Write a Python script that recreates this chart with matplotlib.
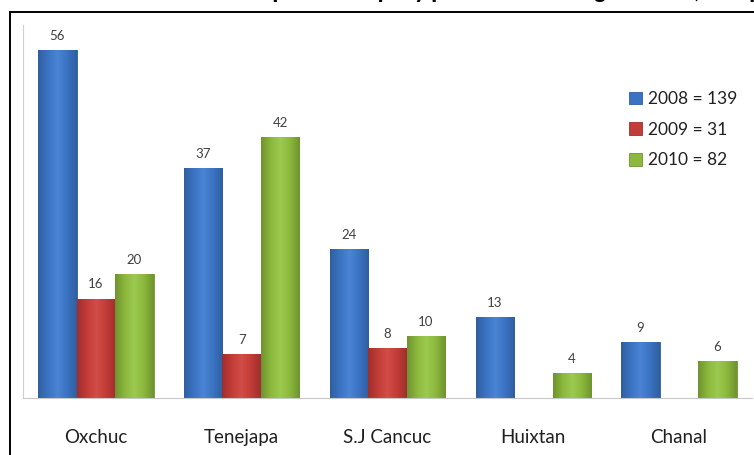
import numpy as np
import matplotlib.pyplot as plt
from matplotlib.patches import Rectangle
from matplotlib.colors import LinearSegmentedColormap

# Data
municipios = ["Oxchuc", "Tenejapa", "S.J Cancuc", "Huixtan", "Chanal"]
años = ["2008", "2009", "2010"]
muertes_2008 = [56, 37, 24, 13, 9]
muertes_2009 = [16, 7, 8, 0, 0]
muertes_2010 = [20, 42, 10, 4, 6]
totales = [139, 31, 82]

series = [muertes_2008, muertes_2009, muertes_2010]
# (dark edge, mid, light center)
colores = [("#2f5f9f", "#3b73c2", "#4a84d4"),
           ("#9e2f2c", "#c23c38", "#d24d48"),
           ("#6f9330", "#8cb83c", "#9cc950")]

plt.rcParams["font.family"] = ["Lato", "DejaVu Sans"]

fig = plt.figure(figsize=(7.54, 4.55), dpi=100)
ax = fig.add_axes([23 / 754, 57 / 455, 729 / 754, 373 / 455])

# outer frame (cut by the image edges)
fig.patches.append(Rectangle((9.5 / 754, -0.1), 1.0, (455 - 12) / 455 + 0.1,
                             transform=fig.transFigure, fill=False,
                             edgecolor="black", linewidth=1.4))

# title, cropped at the top edge as in the source image
fig.text(0.5, 1.018, "Número de muertes maternas por municipio y por años en la región Altos, Chiapas",
         ha="center", va="center", fontsize=16, fontweight="black")

x = np.arange(len(municipios))
w = 0.264
offsets = [-w, 0, w]

for vals, off, (c_dark, c_mid, c_light), year, tot in zip(series, offsets, colores, años, totales):
    bars = ax.bar(x + off, vals, width=w, color=c_mid, edgecolor=c_dark,
                  linewidth=0.6, label=f"{year} = {tot}", zorder=2)
    cmap = LinearSegmentedColormap.from_list("g", [c_dark, c_mid, c_light, c_mid, c_dark])
    grad = np.linspace(0, 1, 64).reshape(1, -1)
    for b, v in zip(bars, vals):
        if v == 0:
            continue
        x0, y0 = b.get_x(), b.get_y()
        im = ax.imshow(grad, extent=(x0, x0 + b.get_width(), y0, y0 + b.get_height()),
                       aspect="auto", cmap=cmap, zorder=2.5, interpolation="bicubic")
        im.set_clip_path(b)
        ax.text(b.get_x() + b.get_width() / 2, v + 1.3, str(v), ha="center",
                va="bottom", fontsize=9.5, color="#404040")

ax.set_xlim(-0.5, len(municipios) - 0.5)
ax.set_ylim(0, 60)
ax.set_xticks(x)
ax.set_xticklabels(municipios, fontsize=13.5, color="#202020")
ax.tick_params(axis="x", length=0, pad=22)
ax.set_yticks([])
for s in ["top", "right"]:
    ax.spines[s].set_visible(False)
ax.spines["left"].set_color("#d0d0d0")
ax.spines["bottom"].set_color("#c8c8c8")

leg = ax.legend(loc="upper left", bbox_to_anchor=(0.81, 0.865), frameon=False,
                fontsize=12.5, handlelength=0.75, handleheight=0.75,
                handletextpad=0.35, labelspacing=0.85)
for t in leg.get_texts():
    t.set_color("#202020")

fig.savefig("out.png", dpi=100)
